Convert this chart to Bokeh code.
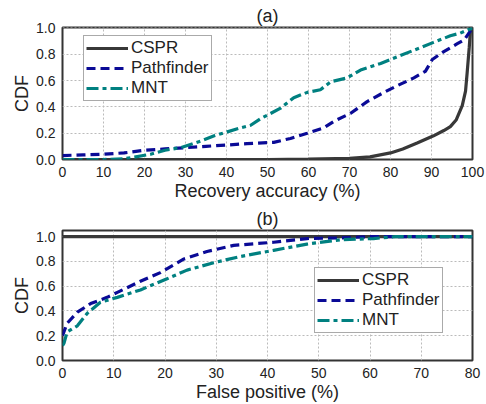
from bokeh.plotting import figure
from bokeh.layouts import column
from bokeh.models import FixedTicker, PrintfTickFormatter, Legend, LegendItem, AllLabels
from bokeh.embed import file_html
from bokeh.resources import INLINE

# ---- data (a) Recovery accuracy ----
a_cspr_x = [0, 50, 60, 70, 75, 80, 83, 86.5, 90.5, 93, 94.6, 96, 97.5, 98.3, 98.7, 99.2, 99.5, 100]
a_cspr_y = [0, 0, 0.003, 0.008, 0.02, 0.05, 0.08, 0.125, 0.18, 0.22, 0.25, 0.30, 0.41, 0.52, 0.66, 0.85, 0.98, 1.0]
a_path_x = [0, 5, 10, 15, 20, 25, 30, 35, 40, 45, 51.5, 55.6, 59.7, 63.7, 66.2, 70.2, 74.3, 78.4, 81.6, 85.7, 88.5, 90.2, 93, 96.3, 98, 100]
a_path_y = [0.03, 0.035, 0.04, 0.05, 0.07, 0.08, 0.09, 0.10, 0.11, 0.12, 0.13, 0.16, 0.20, 0.24, 0.29, 0.35, 0.44, 0.51, 0.56, 0.62, 0.67, 0.76, 0.82, 0.88, 0.91, 1.0]
a_mnt_x = [0, 10, 15, 21.5, 25, 28.8, 33.7, 37, 40.2, 43.4, 45.9, 48.3, 53.2, 56.4, 59.7, 62.9, 65.4, 69.4, 72.7, 77.6, 82.4, 87.3, 90.5, 94.6, 97, 100]
a_mnt_y = [0, 0, 0.005, 0.04, 0.07, 0.09, 0.14, 0.18, 0.21, 0.24, 0.26, 0.31, 0.39, 0.47, 0.51, 0.53, 0.59, 0.62, 0.68, 0.73, 0.79, 0.85, 0.89, 0.94, 0.96, 1.0]

# ---- data (b) False positive ----
b_cspr_x = [0, 80]
b_cspr_y = [1.0, 1.0]
b_path_x = [0, 0.9, 2.9, 5.5, 8.7, 10.7, 15.2, 19.1, 23.7, 28.2, 33.4, 41.2, 47.7, 54.2, 60, 80]
b_path_y = [0.20, 0.30, 0.39, 0.46, 0.51, 0.55, 0.64, 0.71, 0.82, 0.88, 0.93, 0.955, 0.985, 0.99, 1.0, 1.0]
b_mnt_x = [0, 0.3, 0.9, 2.9, 4.8, 7.4, 10.7, 15.2, 20.4, 24.3, 29.5, 34.7, 41.2, 47.7, 54.2, 60.7, 65, 80]
b_mnt_y = [0.12, 0.14, 0.23, 0.28, 0.38, 0.47, 0.51, 0.57, 0.66, 0.73, 0.79, 0.84, 0.89, 0.94, 0.975, 0.985, 1.0, 1.0]

series_names = ["CSPR", "Pathfinder", "MNT"]
a_xticks = [0, 10, 20, 30, 40, 50, 60, 70, 80, 90, 100]
b_xticks = [0, 10, 20, 30, 40, 50, 60, 70, 80]
y_ticks = [0.0, 0.2, 0.4, 0.6, 0.8, 1.0]
y_tick_labels = ["0.0", "0.2", "0.4", "0.6", "0.8", "1.0"]

FONT = "Liberation Sans"
COLORS = ["#383838", "#0a0a96", "#008080"]
DASHES = ["solid", "9 5", "12 4 4 4"]


def make(title, xlabel, xr, yr, xticks, h, top, bottom):
    p = figure(width=486, height=h, x_range=xr, y_range=yr, output_backend="svg",
               toolbar_location=None, min_border_left=62, min_border_right=14,
               min_border_top=top, min_border_bottom=bottom, title=title)
    p.title.align = "center"
    p.title.text_font = FONT
    p.title.text_font_size = "18px"
    p.title.text_font_style = "normal"
    p.title.text_color = "#222222"
    p.title.standoff = 3
    p.title.offset = 0
    p.xaxis.ticker = FixedTicker(ticks=xticks)
    p.yaxis.ticker = FixedTicker(ticks=y_ticks)
    p.yaxis.formatter = PrintfTickFormatter(format="%.1f")
    p.yaxis.major_label_overrides = {t: s for t, s in zip(y_ticks, y_tick_labels)}
    for ax in (p.xaxis[0], p.yaxis[0]):
        ax.major_label_policy = AllLabels()
        ax.major_label_text_font = FONT
        ax.major_label_text_font_size = "14px"
        ax.major_label_text_color = "#222222"
        ax.axis_label_text_font = FONT
        ax.axis_label_text_font_size = "18px"
        ax.axis_label_text_font_style = "normal"
        ax.axis_label_text_color = "#222222"
        ax.axis_line_color = None
        ax.major_tick_line_color = None
        ax.minor_tick_line_color = None
        ax.major_label_standoff = 1
        ax.axis_label_standoff = 1
    p.xaxis.axis_label = xlabel
    p.yaxis.axis_label = "CDF"
    p.grid.grid_line_color = "#bbbbbb"
    p.grid.grid_line_dash = "2 2"
    p.grid.grid_line_width = 1
    p.outline_line_color = "#333333"
    p.outline_line_width = 2
    p.background_fill_color = "white"
    return p


def add_lines(p, data, loc):
    items = []
    for (xs, ys), name, c, d in zip(data, series_names, COLORS, DASHES):
        r = p.line(xs, ys, line_color=c, line_width=3.2, line_dash=d)
        items.append(LegendItem(label=name, renderers=[r]))
    lg = Legend(items=items, location=loc)
    lg.label_text_font = FONT
    lg.label_text_font_size = "17px"
    lg.label_text_color = "#222222"
    lg.glyph_width = 42
    lg.glyph_height = 20
    lg.label_height = 20
    lg.label_standoff = 3
    lg.spacing = 0
    lg.padding = 2
    lg.margin = 0
    lg.border_line_color = "#555555"
    lg.border_line_width = 1.5
    lg.background_fill_alpha = 1.0
    p.add_layout(lg, "center")


p1 = make("(a)", "Recovery accuracy (%)", (0, 100), (0, 1.003), a_xticks, 203, 27, 41)
add_lines(p1, [(a_cspr_x, a_cspr_y), (a_path_x, a_path_y), (a_mnt_x, a_mnt_y)], (21, 58))

p2 = make("(b)", "False positive (%)", (0, 80), (0, 1.05), b_xticks, 201, 27, 38)
add_lines(p2, [(b_cspr_x, b_cspr_y), (b_path_x, b_path_y), (b_mnt_x, b_mnt_y)], (252, 27))

layout = column(p1, p2, spacing=0)
open("out.html", "w").write(file_html(layout, INLINE))
